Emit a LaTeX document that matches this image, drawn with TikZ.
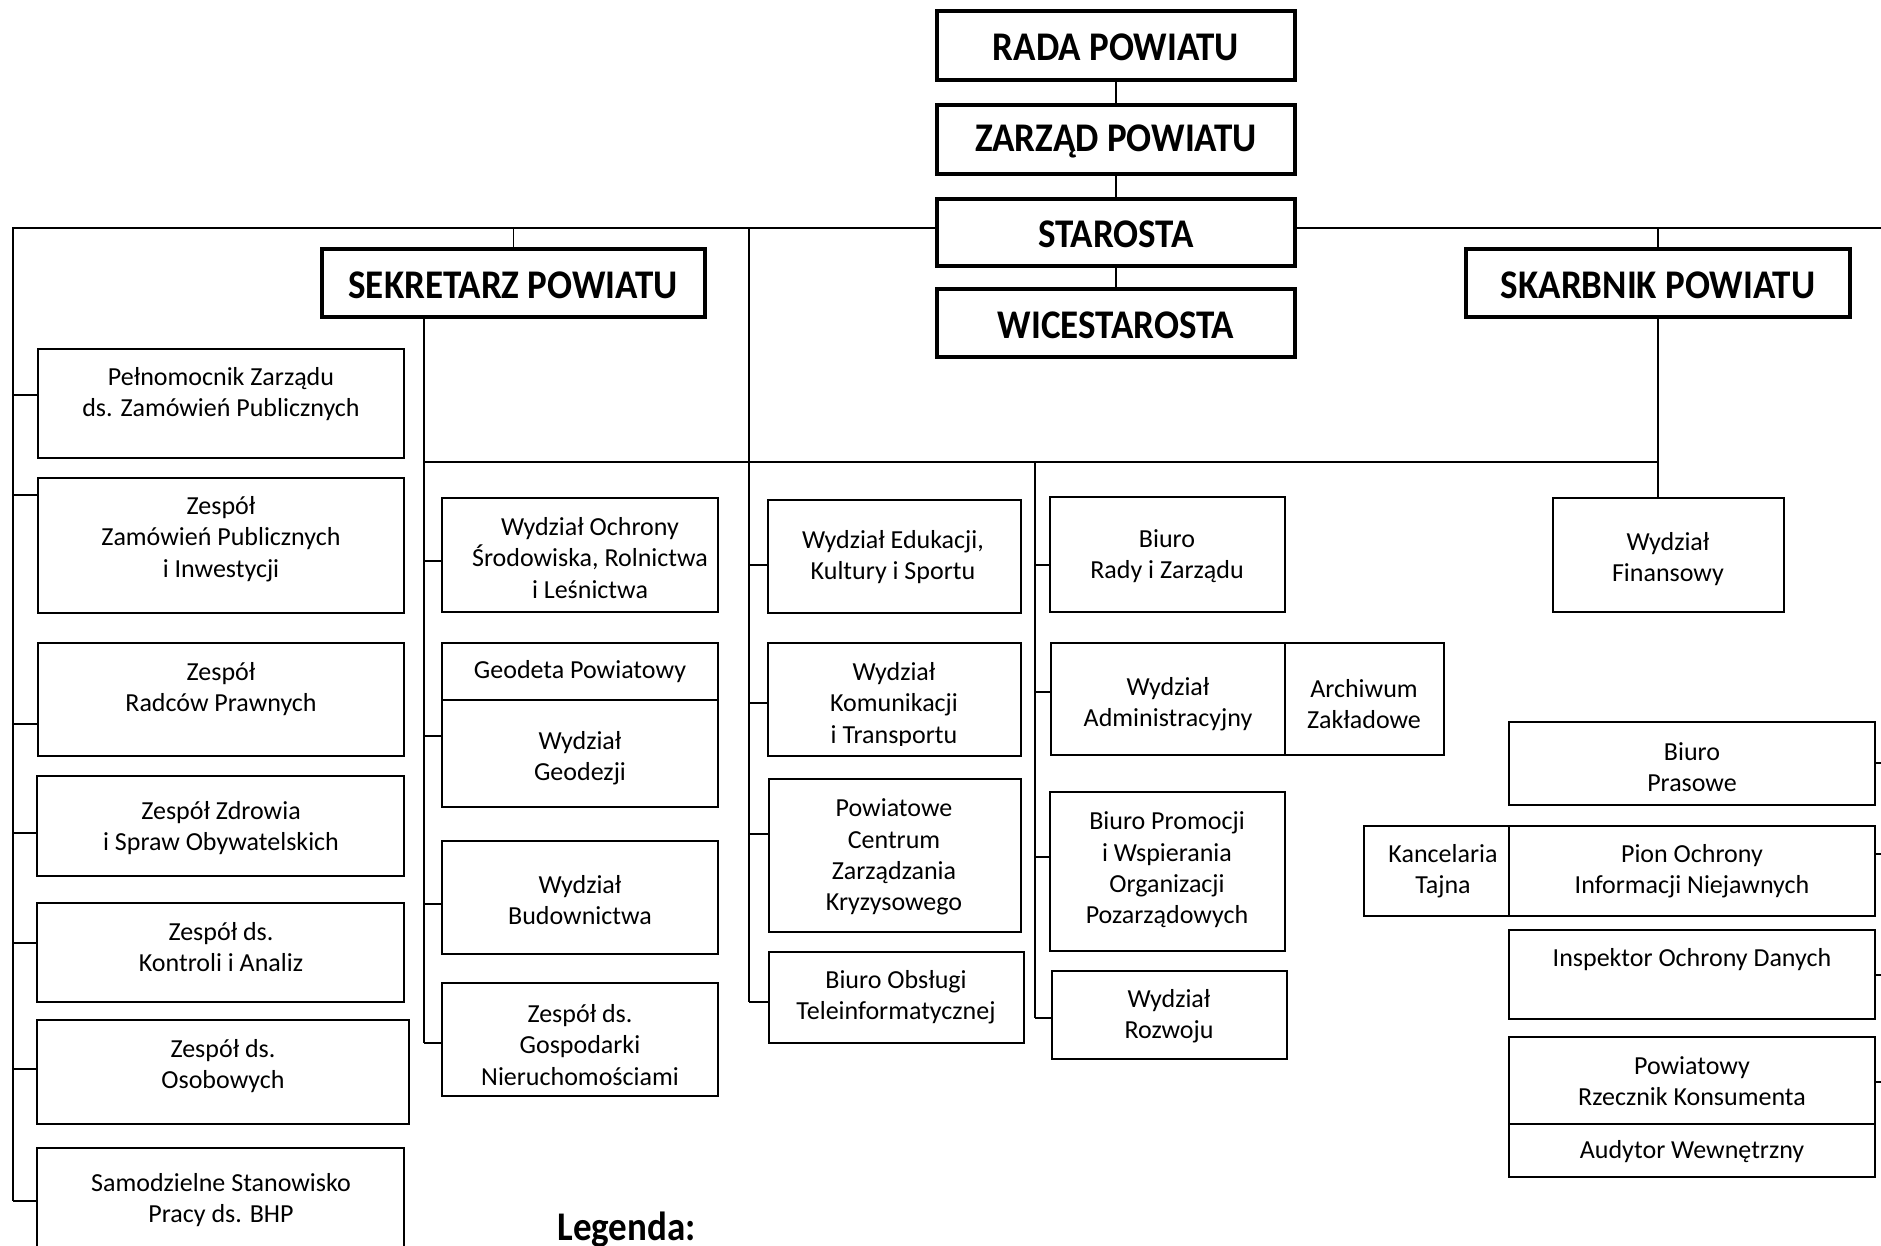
\documentclass[tikz,border=0pt]{standalone}
\usepackage{fontspec}
\setmainfont{Carlito}
\usetikzlibrary{fit}
\newcommand\ubox[5]{\node[box, fit={(#2,#3) (#4,#5)}] (#1) {};}
\newcommand\hbx[5]{\node[hbox, fit={(#2,#3) (#4,#5)}] (#1) {};}
\newcommand\utxt[4]{\node[txt] (#1-t) at (#2,#3) {#4};}
\newcommand\tallhead[1]{\scalebox{1}[1.1]{#1}}
\begin{document}
\begin{tikzpicture}[x=0.5pt,y=-0.5pt,
  box/.style={draw, line width=0.9pt, inner sep=0pt},
  hbox/.style={draw, line width=2pt, inner sep=0pt},
  conn/.style={line width=0.9pt},
  txt/.style={align=center, inner sep=0pt, font=\fontsize{13}{15.7}\selectfont},
  htxt/.style={inner sep=0pt, font=\fontsize{18.5}{22}\selectfont\bfseries}]
\useasboundingbox (0,0) rectangle (1881,1246);
\clip (0,0) rectangle (1881,1246);

% ---- top management ----
\hbx{rada}{937}{11}{1295}{80}
\hbx{zarzad}{937}{105}{1295}{174}
\hbx{starosta}{937}{199}{1295}{266}
\hbx{wice}{937}{289}{1295}{357}
\hbx{sekretarz}{322}{249}{705}{317}
\hbx{skarbnik}{1466}{249}{1850}{317}
\node[htxt] (rada-t) at (1116,47) {\tallhead{RADA POWIATU}};
\node[htxt] (zarzad-t) at (1116,141) {\tallhead{ZARZĄD POWIATU}};
\node[htxt] (starosta-t) at (1116,234) {\tallhead{STAROSTA}};
\node[htxt] (wice-t) at (1116,325) {\tallhead{WICESTAROSTA}};
\node[htxt] (sekretarz-t) at (513,285) {\tallhead{SEKRETARZ POWIATU}};
\node[htxt] (skarbnik-t) at (1658,285) {\tallhead{SKARBNIK POWIATU}};
\node[htxt, anchor=base west] (legenda) at (557,1240) {\tallhead{Legenda:}};

% ---- left column ----
\ubox{pel}{38}{349}{404}{458}
\ubox{zzp}{38}{478}{404}{613}
\ubox{zrp}{38}{643}{404}{756}
\ubox{zzd}{37}{776}{404}{876}
\ubox{zka}{37}{903}{404}{1002}
\ubox{zos}{37}{1020}{409}{1124}
\ubox{bhp}{37}{1148}{404}{1270}
\utxt{pel}{221}{394}{Pełnomocnik Zarządu\\ds. Zamówień Publicznych}
\utxt{zzp}{221}{539}{Zespół\\Zamówień Publicznych\\i Inwestycji}
\utxt{zrp}{221}{689}{Zespół\\Radców Prawnych}
\utxt{zzd}{221}{828}{Zespół Zdrowia\\i Spraw Obywatelskich}
\utxt{zka}{221}{947}{Zespół ds.\\Kontroli i Analiz}
\utxt{zos}{223}{1066}{Zespół ds.\\Osobowych}
\utxt{bhp}{221}{1200}{Samodzielne Stanowisko\\Pracy ds. BHP}

% ---- sekretarz column ----
\ubox{woch}{442}{498}{718}{612}
\ubox{geo}{442}{643}{718}{700}
\ubox{wgeo}{442}{700}{718}{807}
\ubox{wbud}{442}{841}{718}{954}
\ubox{zgn}{442}{983}{718}{1096}
\utxt{woch}{590}{558}{Wydział Ochrony\\Środowiska, Rolnictwa\\i Leśnictwa}
\utxt{geo}{580}{672}{Geodeta Powiatowy}
\utxt{wgeo}{580}{758}{Wydział\\Geodezji}
\utxt{wbud}{580}{900}{Wydział\\Budownictwa}
\utxt{zgn}{580}{1045}{Zespół ds.\\Gospodarki\\Nieruchomościami}

% ---- middle column ----
\ubox{wek}{768}{500}{1021}{613}
\ubox{wkt}{768}{643}{1021}{756}
\ubox{pczk}{769}{779}{1021}{932}
\ubox{bot}{769}{952}{1024}{1043}
\utxt{wek}{893}{557}{Wydział Edukacji,\\Kultury i Sportu}
\begin{scope}
\clip (768,640) rectangle (1021,745);
\utxt{wkt}{894}{705}{Wydział\\Komunikacji\\i Transportu}
\end{scope}
\utxt{pczk}{894}{857}{Powiatowe\\Centrum\\Zarządzania\\Kryzysowego}
\utxt{bot}{896}{997}{Biuro Obsługi\\Teleinformatycznej}

% ---- right-centre column ----
\ubox{brz}{1050}{497}{1285}{612}
\ubox{wadm}{1051}{643}{1285}{755}
\ubox{arch}{1285}{643}{1444}{755}
\ubox{bpr}{1050}{792}{1285}{951}
\ubox{wroz}{1052}{971}{1287}{1059}
\utxt{brz}{1167}{556}{Biuro\\Rady i Zarządu}
\utxt{wadm}{1168}{704}{Wydział\\Administracyjny}
\utxt{arch}{1364}{704}{Archiwum\\Zakładowe}
\utxt{bpr}{1167}{870}{Biuro Promocji\\i Wspierania\\Organizacji\\Pozarządowych}
\utxt{wroz}{1169}{1016}{Wydział\\Rozwoju}

% ---- right side ----
\ubox{wfin}{1553}{498}{1784}{612}
\ubox{bpras}{1509}{722}{1875}{805}
\ubox{ktaj}{1364}{826}{1509}{916}
\ubox{pion}{1509}{826}{1875}{916}
\ubox{iod}{1509}{930}{1875}{1019}
\ubox{prk}{1509}{1037}{1875}{1124}
\ubox{aud}{1509}{1124}{1875}{1177}
\utxt{wfin}{1668}{559}{Wydział\\Finansowy}
\utxt{bpras}{1692}{767}{Biuro\\Prasowe}
\utxt{ktaj}{1443}{871}{Kancelaria\\Tajna}
\utxt{pion}{1692}{871}{Pion Ochrony\\Informacji Niejawnych}
\utxt{iod}{1692}{960}{Inspektor Ochrony Danych}
\utxt{prk}{1692}{1081}{Powiatowy\\Rzecznik Konsumenta}
\utxt{aud}{1692}{1152}{Audytor Wewnętrzny}

% ---- bus coordinates ----
\coordinate (busL) at (13,228);
\coordinate (busR) at (1881,228);
\coordinate (vL) at (13,1201);
\coordinate (vM) at (749,228);
\coordinate (vMb) at (749,1002);
\coordinate (vS) at (424,317);
\coordinate (vSb) at (424,1043);
\coordinate (bus2L) at (424,462);
\coordinate (bus2R) at (1658,462);
\coordinate (vR) at (1035,462);
\coordinate (vRb) at (1035,1018);
\coordinate (edge) at (1881,0);

% ---- connectors: top chain ----
\draw[conn] (rada) -- (zarzad);
\draw[conn] (zarzad) -- (starosta);
\draw[conn] (starosta) -- (wice);
\draw[conn] (starosta.west |- busL) -- (busL) -- (vL);
\draw[conn] (starosta.east |- busR) -- (busR);
\draw[conn] (sekretarz.north |- busL) -- (sekretarz.north);
\draw[conn] (skarbnik.north |- busR) -- (skarbnik.north);
\draw[conn] (vM) -- (vMb);
\draw[conn] (vS) -- (vSb);
\draw[conn] (bus2L) -- (bus2R);
\draw[conn] (skarbnik.south) -- (wfin.north -| skarbnik.south);
\draw[conn] (vR) -- (vRb);

% ---- stubs: left column ----
\draw[conn] (vL |- 0,395) -- (pel.west |- 0,395);
\draw[conn] (vL |- 0,495) -- (zzp.west |- 0,495);
\draw[conn] (vL |- 0,724) -- (zrp.west |- 0,724);
\draw[conn] (vL |- 0,833) -- (zzd.west |- 0,833);
\draw[conn] (vL |- 0,943) -- (zka.west |- 0,943);
\draw[conn] (vL |- 0,1069) -- (zos.west |- 0,1069);
\draw[conn] (vL) -- (bhp.west |- vL);

% ---- stubs: sekretarz column ----
\draw[conn] (vS |- 0,561) -- (woch.west |- 0,561);
\draw[conn] (vS |- 0,736) -- (wgeo.west |- 0,736);
\draw[conn] (vS |- 0,904) -- (wbud.west |- 0,904);
\draw[conn] (vSb) -- (zgn.west |- vSb);

% ---- stubs: middle column ----
\draw[conn] (vM |- 0,565) -- (wek.west |- 0,565);
\draw[conn] (vM |- 0,703) -- (wkt.west |- 0,703);
\draw[conn] (vM |- 0,834) -- (pczk.west |- 0,834);
\draw[conn] (vMb) -- (bot.west |- vMb);

% ---- stubs: right-centre column ----
\draw[conn] (vR |- 0,565) -- (brz.west |- 0,565);
\draw[conn] (vR |- 0,692) -- (wadm.west |- 0,692);
\draw[conn] (vR |- 0,857) -- (bpr.west |- 0,857);
\draw[conn] (vRb) -- (wroz.west |- vRb);

% ---- stubs: right column (to the edge) ----
\draw[conn] (bpras.east |- 0,763) -- (edge |- 0,763);
\draw[conn] (pion.east |- 0,854) -- (edge |- 0,854);
\draw[conn] (iod.east |- 0,975) -- (edge |- 0,975);
\draw[conn] (prk.east |- 0,1082) -- (edge |- 0,1082);
\end{tikzpicture}
\end{document}
